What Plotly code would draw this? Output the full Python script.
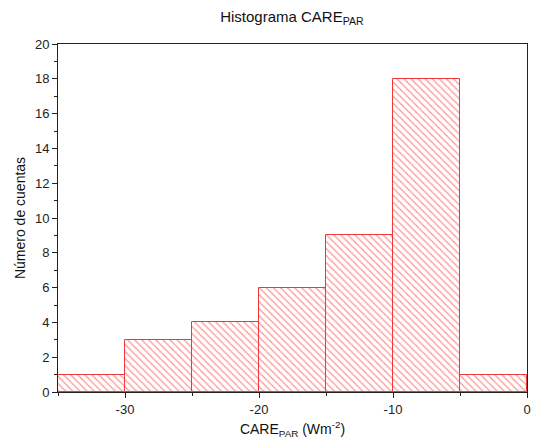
import plotly.graph_objects as go

# Histogram bins (W m^-2) and counts
bin_left = [-35, -30, -25, -20, -15, -10, -5]
bin_width = 5
counts = [1, 3, 4, 6, 9, 18, 1]

x_ticks = [-30, -20, -10, 0]
x_tick_labels = ["-30", "-20", "-10", "0"]
y_ticks = list(range(0, 21, 2))

centers = [b + bin_width / 2 for b in bin_left]

fig = go.Figure(
    go.Bar(
        x=centers,
        y=counts,
        width=[bin_width] * len(counts),
        marker=dict(
            color="white",
            line=dict(color="#f03838", width=1),
            pattern=dict(shape="\\", fgcolor="#ff2a2a", bgcolor="white",
                         size=5, solidity=0.25),
        ),
        showlegend=False,
    )
)

font = "Arial, Liberation Sans, sans-serif"

fig.update_layout(
    width=538,
    height=446,
    margin=dict(l=58, r=11, t=44, b=54),
    paper_bgcolor="white",
    plot_bgcolor="white",
    bargap=0,
    font=dict(family=font, size=13, color="#222"),
    title=dict(
        text="Histograma CARE<sub>PAR</sub>",
        x=0.5425, xanchor="center", y=0.962, yanchor="middle",
        font=dict(family=font, size=15, color="#111"),
    ),
)

fig.update_xaxes(
    range=[-35, 0],
    tickvals=x_ticks, ticktext=x_tick_labels,
    ticks="outside", ticklen=5, tickcolor="#222",
    minor=dict(tickvals=[-35, -25, -15, -5], ticks="outside", ticklen=3, tickcolor="#222"),
    showline=True, linecolor="#222", linewidth=1, mirror=True,
    showgrid=False, zeroline=False, automargin=False,
    title=dict(text="CARE<sub>PAR</sub> (Wm<sup>-2</sup>)", font=dict(size=14, color="#111"), standoff=8),
)

fig.update_yaxes(
    range=[0, 20],
    tickvals=y_ticks,
    ticks="outside", ticklen=5, tickcolor="#222",
    minor=dict(dtick=1, ticks="outside", ticklen=3, tickcolor="#222"),
    showline=True, linecolor="#222", linewidth=1, mirror=True,
    showgrid=False, zeroline=False, automargin=False,
    title=dict(text="Número de cuentas", font=dict(size=14, color="#111"), standoff=6),
)

fig.write_html("out.html")
